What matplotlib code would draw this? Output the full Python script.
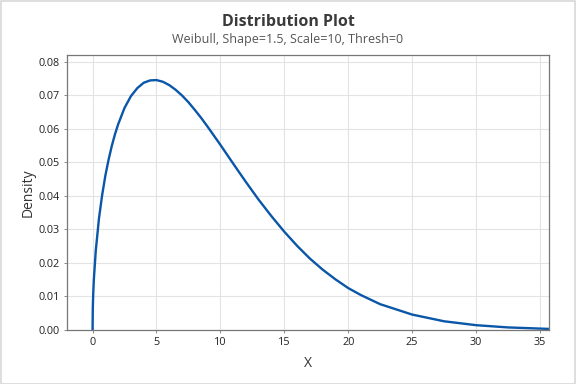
import matplotlib
matplotlib.use("Agg")
import matplotlib.pyplot as plt
from matplotlib.patches import Rectangle

plt.rcParams['font.family'] = ['Open Sans', 'DejaVu Sans']

# Points
x_vals = [0, 0.02, 0.05, 0.1, 0.25, 0.5, 0.75, 1, 1.25, 1.5, 1.75, 2, 2.5, 3,
          3.5, 4, 4.5, 5, 5.5, 6, 6.5, 7, 7.5, 8, 8.5, 9, 10, 11, 12, 13, 14,
          15, 16, 17, 18, 19, 20, 21, 22.5, 25, 27.5, 30, 32.5, 35.7]
density = [0, 0.0067, 0.0106, 0.0150, 0.0236, 0.0332, 0.0402, 0.0460, 0.0507,
           0.0548, 0.0583, 0.0613, 0.0662, 0.0697, 0.0721, 0.0737, 0.0744,
           0.0745, 0.0740, 0.0730, 0.0716, 0.0699, 0.0679, 0.0656, 0.0632,
           0.0606, 0.0552, 0.0496, 0.0441, 0.0388, 0.0339, 0.0293, 0.0251,
           0.0213, 0.0180, 0.0151, 0.0125, 0.0104, 0.0077, 0.0046, 0.0026,
           0.00144, 0.00077, 0.00033]
x_ticks = [0, 5, 10, 15, 20, 25, 30, 35]
y_ticks = [0.00, 0.01, 0.02, 0.03, 0.04, 0.05, 0.06, 0.07, 0.08]

fig = plt.figure(figsize=(5.76, 3.84), dpi=100)
ax = fig.add_axes([0.1163, 0.1406, 0.8367, 0.7164])

ax.plot(x_vals, density, color='#0A56A8', lw=1.7, solid_capstyle='butt')

ax.set_xlim(-2.0, 35.7)
ax.set_ylim(0, 0.082)
ax.set_xticks(x_ticks)
ax.set_yticks(y_ticks)
ax.set_yticklabels([f'{v:.2f}' for v in y_ticks])
ax.tick_params(axis='both', labelsize=7.8, length=2, width=0.6, color='#777777',
               labelcolor='#222222', pad=3)
ax.grid(True, color='#E3E3E3', lw=0.8)
ax.set_axisbelow(True)
for s in ax.spines.values():
    s.set_color('#777777')
    s.set_linewidth(0.9)

ax.set_xlabel('X', fontsize=10, color='#333333', labelpad=6)
ax.set_ylabel('Density', fontsize=10, color='#333333', labelpad=2)

fig.text(0.5, 0.943, 'Distribution Plot', ha='center', va='center',
         fontsize=11.5, fontweight='bold', color='#3A3A3A')
fig.text(0.5, 0.898, 'Weibull, Shape=1.5, Scale=10, Thresh=0', ha='center',
         va='center', fontsize=9, color='#555555')

fig.patches.append(Rectangle((0.001, 0.001), 0.997, 0.997, transform=fig.transFigure,
                             fill=False, edgecolor='#D8D8D8', lw=1.2))

fig.savefig('out.png', dpi=100)
